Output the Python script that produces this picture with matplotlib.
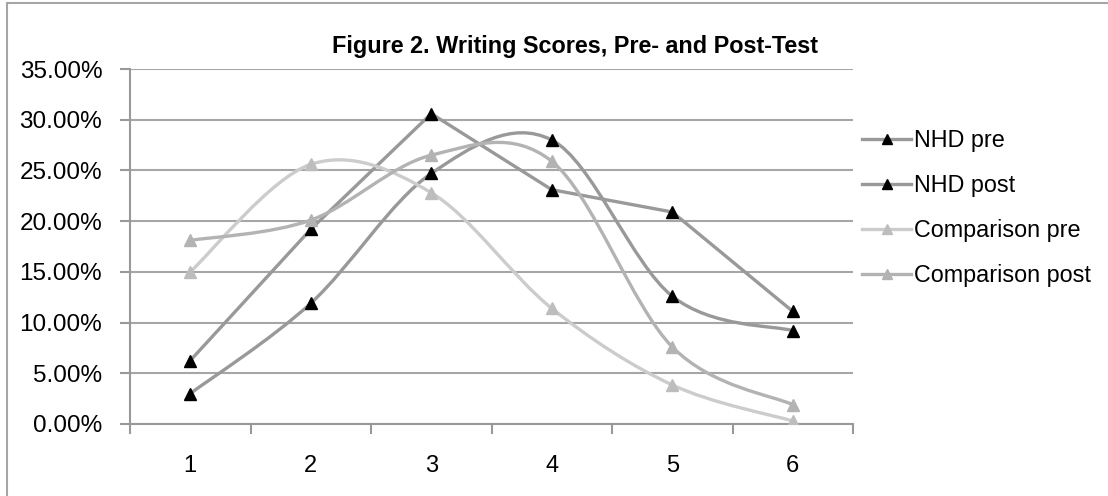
import numpy as np
import matplotlib
matplotlib.use("Agg")
import matplotlib.pyplot as plt
from matplotlib.path import Path
from matplotlib.patches import PathPatch, Rectangle
from matplotlib.lines import Line2D

# Writing score categories and the share of students in each (percent)
scores = ["1", "2", "3", "4", "5", "6"]
nhd_pre = [6.25, 19.2, 30.6, 23.1, 20.9, 11.1]
nhd_post = [3.0, 11.9, 24.7, 28.0, 12.6, 9.2]
comp_pre = [15.0, 25.6, 22.8, 11.4, 3.85, 0.3]
comp_post = [18.1, 20.1, 26.5, 25.9, 7.6, 1.9]

y_ticks = [0, 5, 10, 15, 20, 25, 30, 35]

plt.rcParams["font.family"] = ["Liberation Sans", "DejaVu Sans"]


def smooth_path(xs, ys):
    # Excel-style smoothed line: cubic Bezier through every point
    pts = np.column_stack([xs, ys]).astype(float)
    n = len(pts)
    verts = [pts[0]]
    codes = [Path.MOVETO]
    for i in range(n - 1):
        p0 = pts[i - 1] if i > 0 else pts[i]
        p1 = pts[i]
        p2 = pts[i + 1]
        p3 = pts[i + 2] if i + 2 < n else pts[i + 1]
        c1 = p1 + (p2 - p0) / 6.0
        c2 = p2 - (p3 - p1) / 6.0
        verts += [c1, c2, p2]
        codes += [Path.CURVE4] * 3
    return Path(verts, codes)


fig = plt.figure(figsize=(11.08, 4.96), dpi=100)
ax = fig.add_axes([130 / 1108, 1 - 424 / 496, (853 - 130) / 1108, (424 - 69) / 496])

# chart area border (cropped on the right and bottom in the original)
fig.patches.append(Rectangle((7 / 1108, -0.1), 1.2, 1 - 3 / 496 + 0.1,
                             transform=fig.transFigure, fill=False,
                             edgecolor="#a6a6a6", lw=1.5))

x = np.arange(len(scores))
series = [
    ("NHD pre", nhd_pre, "#999999", "black", False),
    ("NHD post", nhd_post, "#999999", "black", True),
    ("Comparison pre", comp_pre, "#cccccc", "#bdbdbd", True),
    ("Comparison post", comp_post, "#b3b3b3", "#b3b3b3", True),
]

handles = []
for name, vals, lc, mc, smooth in series:
    if smooth:
        ax.add_patch(PathPatch(smooth_path(x, vals), fill=False, edgecolor=lc,
                               lw=2.4, capstyle="round", joinstyle="round", zorder=3))
    else:
        ax.plot(x, vals, color=lc, lw=2.4, solid_joinstyle="round", zorder=3)
    ax.plot(x, vals, ls="none", marker="^", ms=9, color=mc, zorder=4)
    handles.append(Line2D([], [], color=lc, lw=2.4, marker="^", ms=7,
                          markerfacecolor=mc, markeredgecolor=mc))

ax.set_xlim(-0.5, len(scores) - 0.5)
ax.set_ylim(0, 35)
ax.set_yticks(y_ticks)
ax.set_yticklabels([f"{v:.2f}%" for v in y_ticks])
ax.yaxis.grid(True, color="#a6a6a6", lw=1.5)
ax.set_axisbelow(True)

ax.set_xticks(np.arange(-0.5, len(scores)), labels=[])
ax.set_xticks(x, labels=scores, minor=True)
ax.tick_params(axis="x", which="minor", length=0, pad=22, labelsize=17)
ax.tick_params(axis="x", which="major", length=7, width=1.5, color="#999999")
ax.tick_params(axis="y", length=7, width=1.5, color="#999999", pad=13, labelsize=17.5)

for s in ["top", "right"]:
    ax.spines[s].set_visible(False)
for s in ["left", "bottom"]:
    ax.spines[s].set_color("#999999")
    ax.spines[s].set_linewidth(1.5)

fig.text(575 / 1108, 1 - 46 / 496, "Figure 2. Writing Scores, Pre- and Post-Test",
         ha="center", va="center", fontsize=16.8, fontweight="bold")

fig.legend(handles, [s[0] for s in series], loc="upper left",
           bbox_to_anchor=(853 / 1108, 1 - 120 / 496), frameon=False,
           fontsize=16.8, handlelength=2.1, handletextpad=0.12, labelspacing=0.94,
           borderaxespad=0)

fig.savefig("out.png", dpi=100)
